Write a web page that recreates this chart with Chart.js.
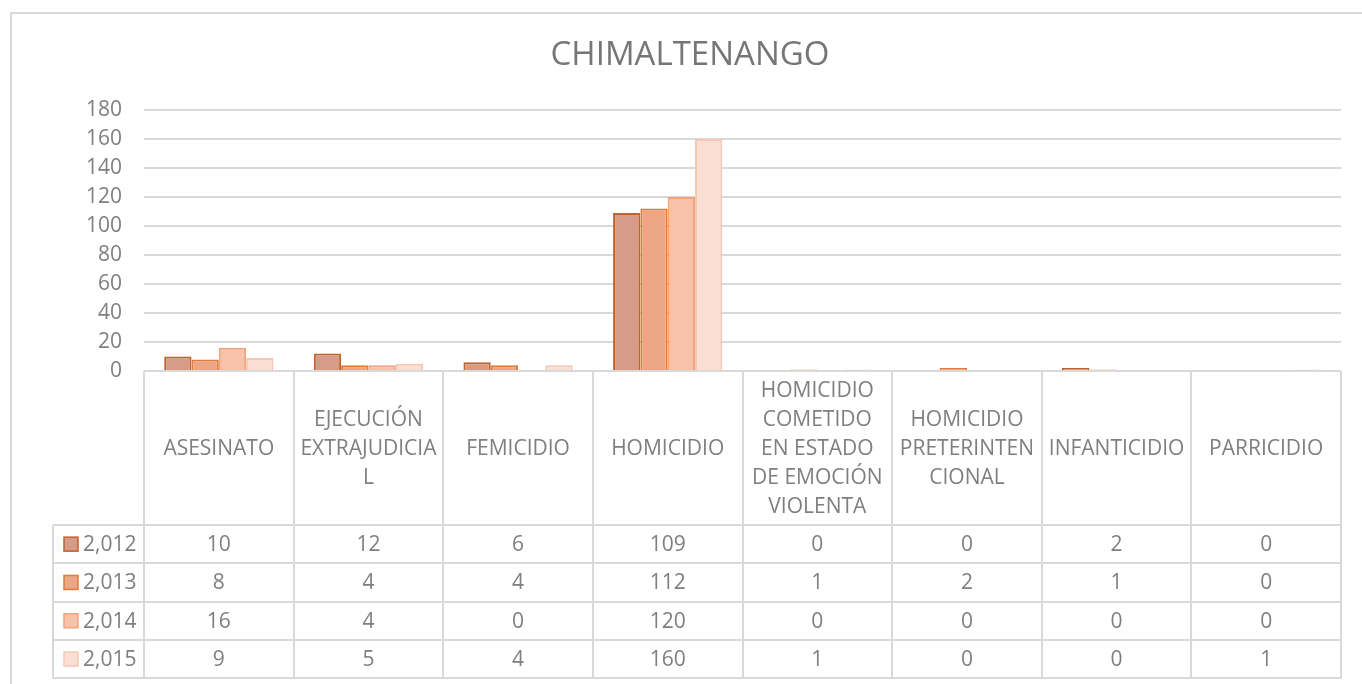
<!DOCTYPE html>
<html>
<head>
<meta charset="utf-8">
<script src="https://cdn.jsdelivr.net/npm/chart.js@4.4.0/dist/chart.umd.min.js"></script>
<style>
  body { margin: 0; background: #fff; }
  #wrap { width: 1362px; height: 684px; }
</style>
</head>
<body>
<div id="wrap"><canvas id="chart"></canvas></div>
<script>
// data
const categories = [
    'ASESINATO',
    ['EJECUCIÓN', 'EXTRAJUDICIA', 'L'],
    'FEMICIDIO',
    'HOMICIDIO',
    ['HOMICIDIO', 'COMETIDO', 'EN ESTADO', 'DE EMOCIÓN', 'VIOLENTA'],
    ['HOMICIDIO', 'PRETERINTEN', 'CIONAL'],
    'INFANTICIDIO',
    'PARRICIDIO'
];
const years = ['2,012', '2,013', '2,014', '2,015'];
const values2012 = [10, 12, 6, 109, 0, 0, 2, 0];
const values2013 = [8, 4, 4, 112, 1, 2, 1, 0];
const values2014 = [16, 4, 0, 120, 0, 0, 0, 0];
const values2015 = [9, 5, 4, 160, 1, 0, 0, 1];
const yMin = 0, yMax = 180, yStep = 20;
const chartTitle = 'CHIMALTENANGO';

// styles
const fills = ['#d69c87', '#eba686', '#f7c1aa', '#fbdfd5'];
const borders = ['#c0622b', '#e07b3a', '#f0a47c', '#f6c7b5'];
const gray = '#7f7f7f';
const lineColor = '#d9d9d9';
const fontFamily = '"Open Sans", sans-serif';

const series = [values2012, values2013, values2014, values2015];

const frame = {
    id: 'frame',
    beforeDraw(chart) {
        const ctx = chart.ctx;
        ctx.save();
        ctx.fillStyle = '#fff';
        ctx.fillRect(0, 0, chart.width, chart.height);
        ctx.strokeStyle = lineColor;
        ctx.lineWidth = 2;
        ctx.strokeRect(11, 13, chart.width + 20, chart.height + 20);
        // title (the outer chart box is wider than the view, so it sits right of centre)
        ctx.fillStyle = '#767676';
        ctx.font = '33px ' + fontFamily;
        ctx.textAlign = 'center';
        ctx.textBaseline = 'middle';
        ctx.fillText(chartTitle, 690, 56);
        ctx.restore();
    }
};

const dataTable = {
    id: 'dataTable',
    afterDraw(chart) {
        const ctx = chart.ctx;
        const area = chart.chartArea;
        const x = chart.scales.x;
        const half = (area.right - area.left) / categories.length / 2;
        const top = area.bottom;
        const headH = 154;
        const rowH = 38.3;
        const legendLeft = 53;
        const headBottom = top + headH;
        const bottom = headBottom + rowH * series.length;

        ctx.save();
        ctx.strokeStyle = lineColor;
        ctx.lineWidth = 2;
        ctx.beginPath();
        // vertical lines
        for (let i = 0; i <= categories.length; i++) {
            const px = Math.round(i < categories.length ? x.getPixelForValue(i) - half : x.getPixelForValue(i - 1) + half);
            ctx.moveTo(px, top);
            ctx.lineTo(px, bottom);
        }
        ctx.moveTo(legendLeft, headBottom);
        ctx.lineTo(legendLeft, bottom);
        // horizontal lines
        ctx.moveTo(area.left, top);
        ctx.lineTo(area.right, top);
        for (let r = 0; r <= series.length; r++) {
            const py = Math.round(headBottom + rowH * r);
            ctx.moveTo(legendLeft, py);
            ctx.lineTo(area.right, py);
        }
        ctx.stroke();

        ctx.fillStyle = gray;
        ctx.font = '21px ' + fontFamily;
        ctx.textAlign = 'center';
        ctx.textBaseline = 'middle';

        // category headers
        const lh = 29;
        categories.forEach((c, i) => {
            const lines = Array.isArray(c) ? c : [c];
            const cx = x.getPixelForValue(i);
            const y0 = top + headH / 2 - (lines.length - 1) * lh / 2;
            lines.forEach((t, k) => ctx.fillText(t, cx, y0 + k * lh + 1));
        });

        // rows
        series.forEach((vals, r) => {
            const cy = headBottom + rowH * r + rowH / 2 + 1;
            vals.forEach((v, i) => {
                ctx.fillText(String(v), x.getPixelForValue(i), cy);
            });
            // legend key
            ctx.fillStyle = fills[r];
            ctx.fillRect(64, cy - 8, 14, 14);
            ctx.strokeStyle = borders[r];
            ctx.lineWidth = 1.5;
            ctx.strokeRect(64, cy - 8, 14, 14);
            ctx.fillStyle = gray;
            ctx.textAlign = 'left';
            ctx.fillText(years[r], 83, cy);
            ctx.textAlign = 'center';
        });
        ctx.restore();
    }
};

const ctx = document.getElementById('chart');

var chart = new Chart(ctx, {
    type: 'bar',
    data: {
        labels: categories,
        datasets: series.map((vals, i) => ({
            label: years[i],
            data: vals,
            backgroundColor: fills[i],
            borderColor: borders[i],
            borderWidth: 2,
            categoryPercentage: 0.73,
            barPercentage: 1
        }))
    },
    options: {
        responsive: true,
        maintainAspectRatio: false,
        animation: false,
        layout: {
            padding: { top: 110, left: 0, right: 21, bottom: 313 }
        },
        plugins: {
            legend: { display: false },
            tooltip: { enabled: false },
            title: { display: false }
        },
        scales: {
            x: {
                grid: { display: false },
                border: { display: false },
                ticks: { display: false },
                afterFit(scale) { scale.height = 0; }
            },
            y: {
                min: yMin,
                max: yMax,
                ticks: {
                    stepSize: yStep,
                    color: gray,
                    padding: 22,
                    font: { size: 21, family: fontFamily }
                },
                grid: { color: lineColor, lineWidth: 2, drawTicks: false },
                border: { display: false },
                afterFit(scale) { scale.width = 144; }
            }
        }
    },
    plugins: [frame, dataTable]
});
</script>
</body>
</html>
